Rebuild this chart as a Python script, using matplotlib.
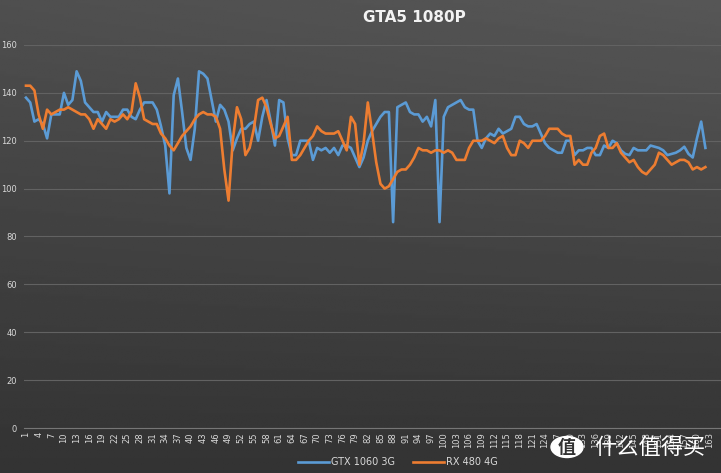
import numpy as np
import matplotlib.pyplot as plt

plt.rcParams['font.family'] = ['DejaVu Sans', 'Noto Sans CJK SC']

title = "GTA5 1080P"
series_names = ["GTX 1060 3G", "RX 480 4G"]

gtx1060 = [138, 136, 128, 129, 127, 121, 131, 131, 131, 140,
           135, 137, 149, 145, 136, 134, 132, 132, 128, 132,
           130, 130, 130, 133, 133, 130, 129, 133, 136, 136,
           136, 133, 126, 118, 98, 139, 146, 132, 117, 112,
           125, 149, 148, 146, 137, 128, 135, 133, 128, 116,
           121, 125, 125, 127, 128, 120, 130, 137, 128, 118,
           137, 136, 121, 114, 114, 120, 120, 120, 112, 117,
           116, 117, 115, 117, 114, 118, 118, 117, 113, 109,
           113, 120, 124, 127, 130, 132, 132, 86, 134, 135,
           136, 132, 131, 131, 128, 130, 126, 137, 86, 130,
           134, 135, 136, 137, 134, 133, 133, 120, 117, 121,
           123, 122, 125, 123, 124, 125, 130, 130, 127, 126,
           126, 127, 123, 119, 117, 116, 115, 115, 120, 120,
           114, 116, 116, 117, 117, 114, 114, 118, 117, 120,
           119, 116, 114.5, 114, 117, 116, 116, 116, 118, 117.5,
           117, 116, 114, 114.5, 115, 116, 117.5, 114.5, 113, 121,
           128, 117]

rx480 = [143, 143, 141, 131, 125, 133, 131, 132, 133, 133,
         134, 133, 132, 131, 131, 129, 125, 129, 127, 125,
         129, 128, 129, 131, 129, 132, 144, 138, 129, 128,
         127, 127, 123, 121, 118, 116, 119, 122, 124, 126,
         129, 131, 132, 131, 131, 130, 125, 108, 95, 120,
         134, 129, 114, 117, 125, 137, 138, 134, 127, 121,
         122, 126, 130, 112, 112, 114, 117, 120, 122, 126,
         124, 123, 123, 123, 124, 120, 116, 130, 127, 110,
         119, 136, 124, 111, 102, 100, 101, 104, 107, 108,
         108, 110, 113, 117, 116, 116, 115, 116, 116, 115,
         116, 115, 112, 112, 112, 117, 120, 120, 120, 121,
         120, 119, 121, 122, 117, 114, 114, 120, 119, 117,
         120, 120, 120, 122, 125, 125, 125, 123, 122, 122,
         110, 112, 110, 110, 115, 117, 122, 123, 117, 117,
         119, 115, 113, 111, 112, 109, 107, 106, 108, 110,
         115, 114, 112, 110, 111, 112, 112, 111, 108, 109,
         108, 109]

x = np.arange(1, len(gtx1060) + 1)
tick_pos = np.arange(1, 166, 3)

W, H = 721, 473
fig = plt.figure(figsize=(W / 100, H / 100), dpi=100)

# dark gradient background
bg = fig.add_axes([0, 0, 1, 1], zorder=-10)
yy, xx = np.mgrid[0:1:200j, 0:1:300j]
shade = 0.31 - 0.11 * yy + 0.03 * xx * (1 - yy)
bg.imshow(shade, cmap='gray', vmin=0, vmax=1, aspect='auto', extent=[0, 1, 0, 1])
bg.set_axis_off()

# axes: y=0 at 428px, y=160 at 45px, x starts at 24px
ax = fig.add_axes([24 / W, (H - 428) / H, (W - 24) / W, (428 - 45) / H])
ax.patch.set_alpha(0)
ax.plot(x, gtx1060, color='#5b9bd5', lw=1.9, label=series_names[0], solid_joinstyle='round')
ax.plot(x, rx480, color='#ed7d31', lw=1.9, label=series_names[1], solid_joinstyle='round')

ax.set_ylim(0, 160)
ax.set_xlim(0.53, 165.7)
ax.set_yticks(range(0, 161, 20))
ax.set_xticks(tick_pos)
ax.set_xticklabels([str(t) for t in tick_pos], rotation=90)
ax.tick_params(axis='both', length=0, colors='#d9d9d9', labelsize=6)
ax.tick_params(axis='x', pad=3)
ax.tick_params(axis='y', pad=5)
ax.grid(axis='y', color='#626262', lw=0.8)
for s in ['top', 'right', 'left']:
    ax.spines[s].set_visible(False)
ax.spines['bottom'].set_color('#767676')
ax.spines['bottom'].set_linewidth(0.8)

fig.text(414 / W, 1 - 18 / H, title, ha='center', va='center',
         fontsize=11, fontweight='bold', color='#f2f2f2')

leg = fig.legend(loc='center', bbox_to_anchor=(398 / W, 1 - 462 / H), ncol=2,
                 frameon=False, fontsize=7, labelcolor='#d9d9d9',
                 handlelength=3.2, columnspacing=1.8, handletextpad=0.2)

# watermark
circ = plt.Circle((567 / W, 1 - 447 / H), 16 / W, transform=fig.transFigure,
                  color='white', zorder=5)
fig.add_artist(circ)
fig.text(567 / W, 1 - 447 / H, "值", ha='center', va='center', fontsize=13,
         color='#333333', family=['Noto Sans CJK SC'], fontweight='bold', zorder=6)
fig.text(650 / W, 1 - 447 / H, "什么值得买", ha='center', va='center', fontsize=16,
         color='white', family=['Noto Sans CJK SC'], zorder=6)

fig.savefig("out.png", dpi=100)
